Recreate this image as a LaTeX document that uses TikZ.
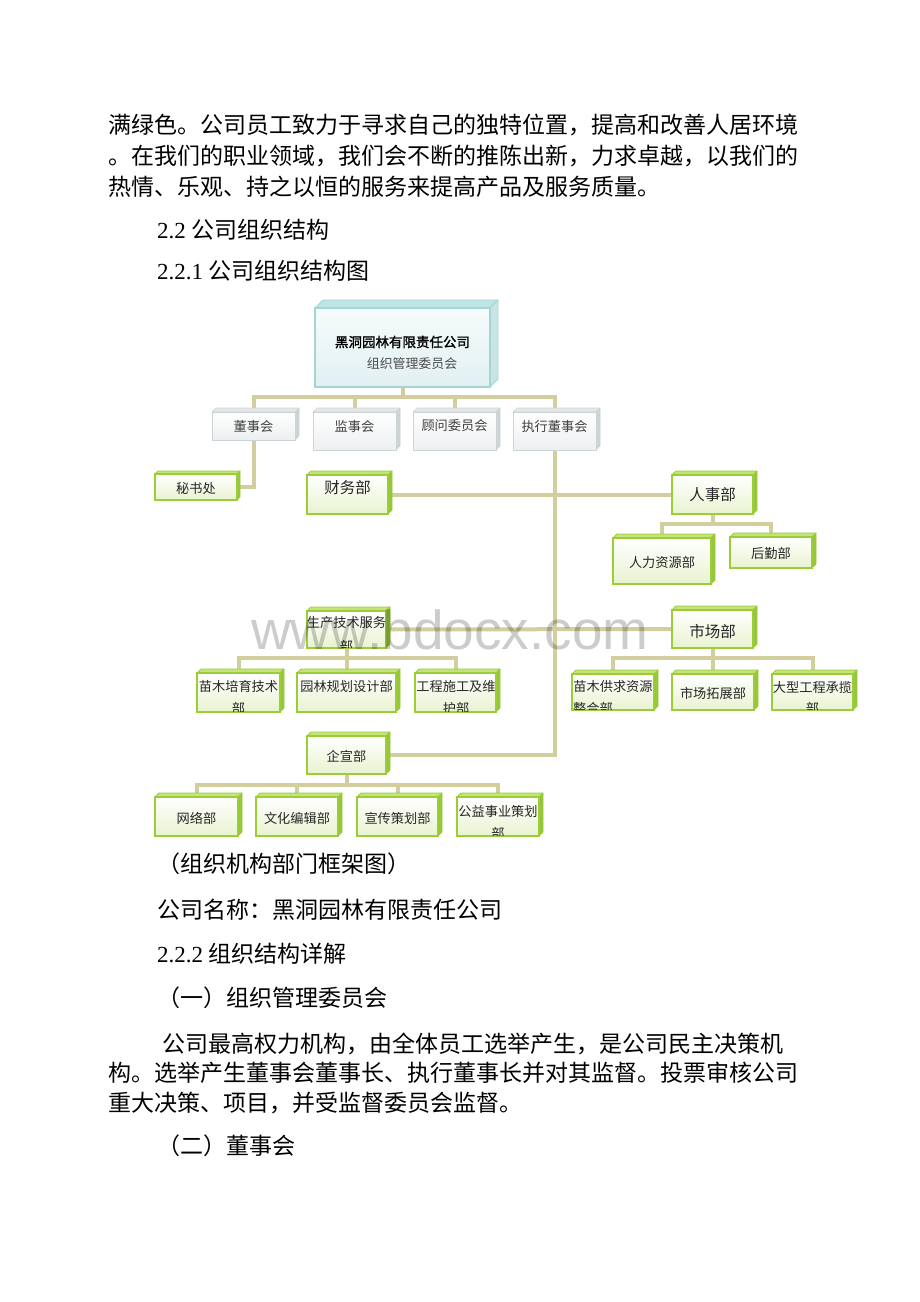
\documentclass[tikz,border=0pt]{standalone}
\usepackage{fontspec}
\setmainfont{Liberation Serif}
\newfontfamily\cjk{Noto Sans CJK SC}
\newfontfamily\cjkheavy[FakeBold=1.5]{Noto Sans CJK SC}
\newfontfamily\wmfont{Liberation Sans}
\usetikzlibrary{backgrounds}
\XeTeXlinebreaklocale "zh"
\XeTeXlinebreakskip=0pt plus 1pt
\definecolor{conncol}{RGB}{210,206,158}
\definecolor{gborder}{RGB}{155,205,55}
\definecolor{gtopc}{RGB}{195,228,120}
\definecolor{gsidec}{RGB}{150,198,60}
\definecolor{gfillb}{RGB}{232,243,208}
\definecolor{sborder}{RGB}{205,212,214}
\definecolor{stopc}{RGB}{228,232,233}
\definecolor{ssidec}{RGB}{205,212,214}
\definecolor{sfillb}{RGB}{236,239,240}
\definecolor{tborder}{RGB}{165,212,212}
\definecolor{ttopc}{RGB}{190,228,228}
\definecolor{tsidec}{RGB}{200,228,228}
\definecolor{tfillt}{RGB}{246,251,251}
\definecolor{tfillb}{RGB}{225,240,242}
\tikzset{
  conn/.style={draw=conncol, line width=4pt},
  gbox/.style={draw=gborder, line width=1.5pt, top color=white, bottom color=gfillb, inner sep=0pt, outer sep=0pt},
  gface/.style={draw=gborder, line width=0.8pt, line join=round},
  sbox/.style={draw=sborder, line width=0.8pt, top color=white, bottom color=sfillb, inner sep=0pt, outer sep=0pt},
  sface/.style={draw=sborder, line width=0.6pt, line join=round},
  tbox/.style={draw=tborder, line width=1.2pt, top color=tfillt, bottom color=tfillb, inner sep=0pt, outer sep=0pt},
  tface/.style={draw=tborder, line width=0.8pt, line join=round},
  body/.style={anchor=west, inner sep=0pt, font=\cjk\fontsize{23}{28}\selectfont},
  lbl/.style={inner sep=0pt, font=\cjk\fontsize{13.2}{16}\selectfont, text=black!85},
  lblbig/.style={inner sep=0pt, font=\cjk\fontsize{15.5}{18}\selectfont, text=black!85},
  slbl/.style={inner sep=0pt, font=\cjk\fontsize{13.2}{16}\selectfont, text=black!75},
}
% #1 name, #2 kind (g/s/t), #3 x1, #4 y1, #5 x2, #6 y2, #7 depth
\newcommand\cubenode[7]{%
  \filldraw[#2face, fill=#2topc] ({#3},{#4}) -- ({#3+#7},{#4-#7}) -- ({#5+#7},{#4-#7}) -- ({#5},{#4}) -- cycle;
  \filldraw[#2face, fill=#2sidec] ({#5},{#4}) -- ({#5+#7},{#4-#7}) -- ({#5+#7},{#6-#7}) -- ({#5},{#6}) -- cycle;
  \node[#2box, minimum width={(#5-#3)*1pt}, minimum height={(#6-#4)*1pt}] (#1) at ({(#3+#5)/2},{(#4+#6)/2}) {};
}
\newcommand\clipin[1]{\clip ([shift={(0.8pt,0.8pt)}]#1.south west) rectangle ([shift={(-0.8pt,-0.8pt)}]#1.north east);}
\begin{document}
\begin{tikzpicture}[x=1pt,y=-1pt]
\useasboundingbox (0,0) rectangle (920,1302);

% ---------- body text ----------
\node[body] (l1) at (108,125) {\makebox[700pt][s]{满绿色。公司员工致力于寻求自己的独特位置，提高和改善人居环境}};
\node[body] (l2) at (108,156) {\makebox[700pt][s]{。在我们的职业领域，我们会不断的推陈出新，力求卓越，以我们的}};
\node[body] (l3) at (108,187) {热情、乐观、持之以恒的服务来提高产品及服务质量。};
\node[body] (h1) at (157,230) {{\rmfamily 2.2 }公司组织结构};
\node[body] (h2) at (157,271) {{\rmfamily 2.2.1 }公司组织结构图};
\node[body] (cap) at (157,864) {（组织机构部门框架图）};
\node[body] (nm) at (157,910) {公司名称：黑洞园林有限责任公司};
\node[body] (h3) at (157,954) {{\rmfamily 2.2.2 }组织结构详解};
\node[body] (s1) at (157,998) {（一）组织管理委员会};
\node[body] (p1) at (162,1044) {\makebox[646pt][s]{公司最高权力机构，由全体员工选举产生，是公司民主决策机}};
\node[body] (p2) at (108,1073) {\makebox[700pt][s]{构。选举产生董事会董事长、执行董事长并对其监督。投票审核公司}};
\node[body] (p3) at (108,1103) {重大决策、项目，并受监督委员会监督。};
\node[body] (s2) at (157,1146) {（二）董事会};

% ---------- boxes ----------
\cubenode{top}{t}{315}{308}{490}{387}{8}
\cubenode{dsh}{s}{212}{412}{295}{440}{4}
\cubenode{jsh}{s}{313}{412}{396}{450}{4}
\cubenode{gw}{s}{413}{412}{496}{450}{4}
\cubenode{zx}{s}{513}{412}{596}{450}{4}
\cubenode{msc}{g}{155}{474}{237}{500}{3}
\cubenode{cw}{g}{307}{475}{388}{514}{4}
\cubenode{rs}{g}{672}{475}{753}{514}{4}
\cubenode{rl}{g}{613}{538}{711}{584}{4}
\cubenode{hq}{g}{730}{537}{812}{568}{4}
\cubenode{sc}{g}{307}{611}{386}{648}{4}
\cubenode{scb}{g}{672}{610}{753}{648}{4}
\cubenode{mp}{g}{197}{673}{280}{712}{4}
\cubenode{yl}{g}{297}{673}{396}{712}{4}
\cubenode{gc}{g}{415}{673}{496}{712}{4}
\cubenode{gq}{g}{572}{674}{654}{710}{4}
\cubenode{tz}{g}{672}{674}{754}{710}{4}
\cubenode{dx}{g}{772}{674}{853}{710}{4}
\cubenode{qx}{g}{307}{736}{386}{774}{4}
\cubenode{wl}{g}{155}{797}{238}{836}{4}
\cubenode{wh}{g}{256}{797}{338}{836}{4}
\cubenode{xc}{g}{357}{797}{438}{836}{4}
\cubenode{gy}{g}{457}{797}{539}{836}{4}

% ---------- connectors ----------
\coordinate (b1) at (402.5,397);
\coordinate (b2) at (712.5,524);
\coordinate (b3) at (346.5,658);
\coordinate (b4) at (712.5,658);
\coordinate (b5) at (346.5,785);
\begin{pgfonlayer}{background}
\fill[white] (0,0) rectangle (920,1302);
\draw[conn] (top) -- (b1);
\draw[conn] (b1) -| (dsh);
\draw[conn] (b1) -| (jsh);
\draw[conn] (b1) -| (gw);
\draw[conn] (b1) -| (zx);
\draw[conn] (dsh) |- (msc);
\draw[conn] (zx) |- (qx);
\draw[conn] (cw) -- (rs);
\draw[conn] (sc) -- (scb);
\draw[conn] (rs) -- (b2);
\draw[conn] (b2) -| (rl);
\draw[conn] (b2) -| (hq);
\draw[conn] (sc) -- (b3);
\draw[conn] (b3) -| (mp);
\draw[conn] (b3) -| (yl);
\draw[conn] (b3) -| (gc);
\draw[conn] (scb) -- (b4);
\draw[conn] (b4) -| (gq);
\draw[conn] (b4) -| (tz);
\draw[conn] (b4) -| (dx);
\draw[conn] (qx) -- (b5);
\draw[conn] (b5) -| (wl);
\draw[conn] (b5) -| (wh);
\draw[conn] (b5) -| (xc);
\draw[conn] (b5) -| (gy);
\end{pgfonlayer}

% ---------- box labels ----------
\node[inner sep=0pt, font=\cjkheavy\fontsize{13.5}{16}\selectfont] (topa) at (410,342) {\makebox[150pt][s]{黑洞园林有限责任公司}};
\node[inner sep=0pt, font=\cjk\fontsize{12.9}{15}\selectfont, text=black!70] (topb) at (412,364) {组织管理委员会};
\node[slbl] (tdsh) at (253.5,426) {董事会};
\node[slbl] (tjsh) at (354.5,426) {监事会};
\node[slbl] (tgw) at (454.5,426) {顾问委员会};
\node[slbl] (tzx) at (554.5,426) {执行董事会};
\node[lbl] (tmsc) at (196,488) {秘书处};
\node[lblbig] (tcw) at (347.5,488) {财务部};
\node[lblbig] (trs) at (712.5,495) {人事部};
\node[lbl] (trl) at (662,562) {人力资源部};
\node[lbl] (thq) at (771,553) {后勤部};
\begin{scope}
\clipin{sc}
\node[lbl] (tsc1) at (346.5,623) {生产技术服务};
\node[lbl] (tsc2) at (346.5,646) {部};
\end{scope}
\node[lblbig] (tscb) at (712.5,632) {市场部};
\begin{scope}
\clipin{mp}
\node[lbl] (tmp1) at (238.5,686) {苗木培育技术};
\node[lbl] (tmp2) at (238.5,708) {部};
\end{scope}
\node[lbl] (tyl) at (346.5,686) {园林规划设计部};
\begin{scope}
\clipin{gc}
\node[lbl] (tgc1) at (456,686) {工程施工及维};
\node[lbl] (tgc2) at (456,708) {护部};
\end{scope}
\begin{scope}
\clipin{gq}
\node[lbl] (tgq1) at (613,686) {苗木供求资源};
\node[lbl, anchor=west] (tgq2) at (573,708) {整合部};
\end{scope}
\node[lbl] (ttz) at (713,693) {市场拓展部};
\begin{scope}
\clipin{dx}
\node[lbl] (tdx1) at (812.5,687) {大型工程承揽};
\node[lbl] (tdx2) at (812.5,708) {部};
\end{scope}
\node[lbl] (tqx) at (346.5,756) {企宣部};
\node[lbl] (twl) at (196.5,818) {网络部};
\node[lbl] (twh) at (297,818) {文化编辑部};
\node[lbl] (txc) at (397.5,818) {宣传策划部};
\begin{scope}
\clipin{gy}
\node[lbl] (tgy1) at (498,811) {公益事业策划};
\node[lbl] (tgy2) at (498,833) {部};
\end{scope}

% ---------- watermark ----------
\node[anchor=base west, inner sep=0pt, font=\wmfont\fontsize{55}{60}\selectfont, text=black, opacity=0.2] (wm) at (251,649) {www.bdocx.com};
\end{tikzpicture}
\end{document}
